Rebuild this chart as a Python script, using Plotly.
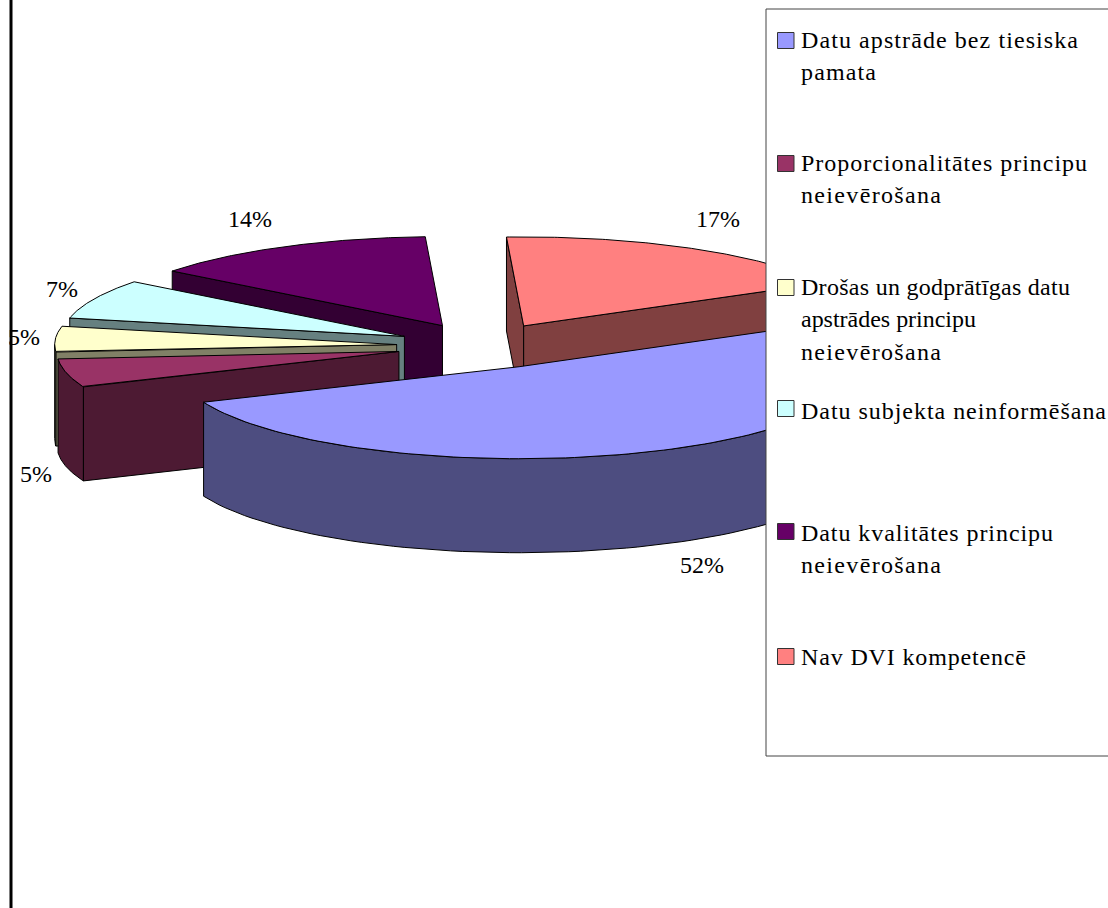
import json
import numpy as np
import plotly.graph_objects as go

# ---- data ----
categories = ["Datu apstrāde bez tiesiska pamata",
              "Proporcionalitātes principu neievērošana",
              "Drošas un godprātīgas datu apstrādes principu neievērošana",
              "Datu subjekta neinformēšana",
              "Datu kvalitātes principu neievērošana",
              "Nav DVI kompetencē"]
values = [51.7, 5.0, 4.6, 7.2, 13.7, 17.8]
percent_labels = ["52%", "5%", "5%", "7%", "14%", "17%"]

# ---- styles / layout ----
top_colors = ["#9999FF", "#993366", "#FFFFCC", "#CCFFFF", "#660066", "#FF8080"]
wall_colors = ["#4D4D80", "#4D1A33", "#808066", "#668080", "#330033", "#804040"]
legend_lines = [["Datu apstrāde bez tiesiska", "pamata"],
                ["Proporcionalitātes principu", "neievērošana"],
                ["Drošas un godprātīgas datu", "apstrādes principu", "neievērošana"],
                ["Datu subjekta neinformēšana"],
                ["Datu kvalitātes principu", "neievērošana"],
                ["Nav DVI kompetencē"]]
line_widths_px = {"Datu apstrāde bez tiesiska": 277, "pamata": 75,
                  "Proporcionalitātes principu": 286, "neievērošana": 140,
                  "Drošas un godprātīgas datu": 269, "apstrādes principu": 175,
                  "Datu subjekta neinformēšana": 305,
                  "Datu kvalitātes principu": 252, "Nav DVI kompetencē": 225}
legend_first_line_y = [40, 163, 287, 411, 533, 657]
legend_marker_y = [40.5, 163.5, 287.5, 408.5, 531.5, 656.5]
label_pos = [(702, 565), (36, 474), (24, 337), (62, 289), (250, 219), (718, 219)]
CX, CY, RX, RY_FRONT, RY_BACK, DEPTH, EXPLODE, START = 482, 346, 342, 92, 89, 94, 0.25, 61.2
FONT = "Liberation Serif"
FS = 24
draw_order = [4, 5, 3, 2, 1, 0]

spans = np.array(values) / sum(values) * 360
starts = START + np.concatenate([[0], np.cumsum(spans)[:-1]])

fig = go.Figure()


def face(xs, ys, color):
    fig.add_trace(go.Scatter(x=list(xs), y=list(ys), mode="lines", fill="toself",
                             fillcolor=color, line=dict(color="black", width=1),
                             hoverinfo="skip", showlegend=False))


def pt(t, ax, ay):
    r = np.radians(t)
    c = np.cos(r)
    return ax + RX * np.sin(r), ay - np.where(c > 0, RY_BACK, RY_FRONT) * c


for i in draw_order:
    t0, t1 = starts[i], starts[i] + spans[i]
    mid = np.radians((t0 + t1) / 2)
    ax = CX + EXPLODE * RX * np.sin(mid)
    ay = CY - EXPLODE * RY_FRONT * np.cos(mid)
    # radial walls facing the viewer
    for t, d in ((t0, t0 - 90), (t1, t1 + 90)):
        if np.cos(np.radians(d)) < 0:
            x, y = pt(t, ax, ay)
            face([ax, x, x, ax, ax], [ay, y, y + DEPTH, ay + DEPTH, ay], wall_colors[i])
    # outer wall facing the viewer
    lo, hi = max(t0, 90), min(t1, 270)
    if lo < hi:
        ts = np.linspace(lo, hi, 80)
        x, y = pt(ts, ax, ay)
        face(np.r_[x, x[::-1], x[0]], np.r_[y, y[::-1] + DEPTH, y[0]], wall_colors[i])
    # top face
    ts = np.linspace(t0, t1, 120)
    x, y = pt(ts, ax, ay)
    face(np.r_[ax, x, ax], np.r_[ay, y, ay], top_colors[i])

shapes = [
    dict(type="line", x0=11, x1=11, y0=0, y1=908, line=dict(color="black", width=3)),
    dict(type="rect", x0=766, x1=1112, y0=9, y1=756, fillcolor="white",
         line=dict(color="#444444", width=1)),
]
annotations = []
for txt, (x, y) in zip(percent_labels, label_pos):
    annotations.append(dict(x=x, y=y, text=txt, showarrow=False, xanchor="center",
                            yanchor="middle", font=dict(family=FONT, size=FS, color="black")))
for i, lines in enumerate(legend_lines):
    my = legend_marker_y[i]
    shapes.append(dict(type="rect", x0=777.5, x1=794, y0=my - 8, y1=my + 8,
                       fillcolor=top_colors[i], line=dict(color="#333333", width=1)))
    for j, line in enumerate(lines):
        annotations.append(dict(x=799, y=legend_first_line_y[i] + j * 32.3, text=line,
                                showarrow=False, xanchor="left", yanchor="middle",
                                font=dict(family=FONT, size=FS, color="black")))

fig.update_layout(
    width=1108, height=908, margin=dict(l=0, r=0, t=0, b=0),
    paper_bgcolor="white", plot_bgcolor="white", showlegend=False,
    xaxis=dict(range=[0, 1108], visible=False, fixedrange=True),
    yaxis=dict(range=[908, 0], visible=False, fixedrange=True),
    shapes=shapes, annotations=annotations,
)
post = """
document.body.style.margin = '0';
var w = %s;
document.querySelectorAll('.annotation-text').forEach(function (t) {
  var v = w[t.textContent];
  if (v) {
    var left = t.getBBox().x;
    t.setAttribute('text-anchor', 'start');
    t.style.textAnchor = 'start';
    t.setAttribute('x', left);
    t.setAttribute('textLength', v);
    t.setAttribute('lengthAdjust', 'spacing');
  }
});
""" % json.dumps(line_widths_px, ensure_ascii=False)
fig.write_html("out.html", config={"displayModeBar": False}, post_script=post)
